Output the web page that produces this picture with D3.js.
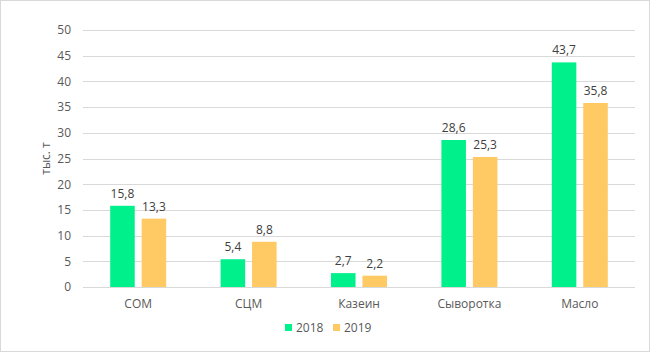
<!DOCTYPE html>
<head>
    <meta charset="utf-8">
    <script src="https://cdn.jsdelivr.net/npm/d3@7"></script>
    <style>
        body { margin: 0; background: #fff; }
        text { font-family: "Open Sans", sans-serif; }
    </style>
</head>
<body>
<div id="container"></div>

<script>

// Données
const categories = ["СОМ", "СЦМ", "Казеин", "Сыворотка", "Масло"];
const series = ["2018", "2019"];
const values2018 = [15.8, 5.4, 2.7, 28.6, 43.7];
const values2019 = [13.3, 8.8, 2.2, 25.3, 35.8];
const yTicks = [0, 5, 10, 15, 20, 25, 30, 35, 40, 45, 50];
const colors = ["#00f08c", "#ffc964"];

const width = 650;
const height = 352;
const marginTop = 30;
const marginRight = 15;
const marginBottom = 65;
const marginLeft = 83;

const svg = d3.create("svg")
              .attr("width", width)
              .attr("height", height);

// Cadre
svg.append("rect")
   .attr("x", 0.5).attr("y", 0.5)
   .attr("width", width - 1).attr("height", height - 1)
   .attr("fill", "#fff")
   .attr("stroke", "#d9d9d9");

const x = d3.scaleBand()
            .domain(categories)
            .range([marginLeft, width - marginRight]);

const xSub = d3.scaleBand()
               .domain(series)
               .range([-28, 28])
               .paddingInner(0.22);

const y = d3.scaleLinear()
            .domain([0, 50])
            .range([height - marginBottom, marginTop]);

// Grille
svg.append("g")
   .selectAll("line")
   .data(yTicks)
   .enter().append("line")
   .attr("x1", marginLeft)
   .attr("x2", width - marginRight)
   .attr("y1", d => Math.round(y(d)) + 0.5)
   .attr("y2", d => Math.round(y(d)) + 0.5)
   .attr("stroke", "#d9d9d9")
   .attr("stroke-width", 1);

// Axe Y
const yAxis = svg.append("g")
   .attr("transform", `translate(${marginLeft},0)`)
   .call(d3.axisLeft(y).tickValues(yTicks).tickSize(0).tickPadding(12));
yAxis.select(".domain").remove();
yAxis.selectAll("text")
     .style("font-size", "12px")
     .attr("fill", "#595959");

// Axe X
const xAxis = svg.append("g")
   .attr("transform", `translate(0,${height - marginBottom})`)
   .call(d3.axisBottom(x).tickSize(0).tickPadding(12));
xAxis.select(".domain").remove();
xAxis.selectAll("text")
     .style("font-size", "12px")
     .attr("fill", "#595959");

// Barres
const data = categories.map((c, i) => ({ cat: c, vals: [values2018[i], values2019[i]] }));

const groups = svg.append("g")
   .selectAll("g")
   .data(data)
   .enter().append("g")
   .attr("transform", d => `translate(${x(d.cat) + x.bandwidth() / 2},0)`);

groups.selectAll("rect")
   .data(d => d.vals.map((v, j) => ({ s: series[j], v: v, j: j })))
   .enter().append("rect")
   .attr("x", d => xSub(d.s))
   .attr("width", xSub.bandwidth())
   .attr("y", d => y(d.v))
   .attr("height", d => y(0) - y(d.v))
   .attr("fill", d => colors[d.j]);

groups.selectAll("text")
   .data(d => d.vals.map((v, j) => ({ s: series[j], v: v })))
   .enter().append("text")
   .attr("x", d => xSub(d.s) + xSub.bandwidth() / 2)
   .attr("y", d => y(d.v) - 8)
   .attr("text-anchor", "middle")
   .style("font-size", "12px")
   .attr("fill", "#404040")
   .text(d => String(d.v).replace(".", ","));

// Titre axe Y
svg.append("text")
   .attr("transform", `translate(50,${(marginTop + height - marginBottom) / 2}) rotate(-90)`)
   .attr("text-anchor", "middle")
   .style("font-size", "12px")
   .attr("fill", "#595959")
   .text("тыс. т");

// Légende
const legend = svg.append("g")
   .attr("transform", "translate(285,328)");

const legendItems = legend.selectAll("g")
   .data(series)
   .enter().append("g")
   .attr("transform", (d, i) => `translate(${i * 48},0)`);

legendItems.append("rect")
   .attr("x", 0).attr("y", -4)
   .attr("width", 7).attr("height", 7)
   .attr("fill", (d, i) => colors[i]);

legendItems.append("text")
   .attr("x", 11)
   .attr("y", 0)
   .attr("dy", "0.35em")
   .style("font-size", "12px")
   .attr("fill", "#595959")
   .text(d => d);

container.append(svg.node());

</script>
</body>
